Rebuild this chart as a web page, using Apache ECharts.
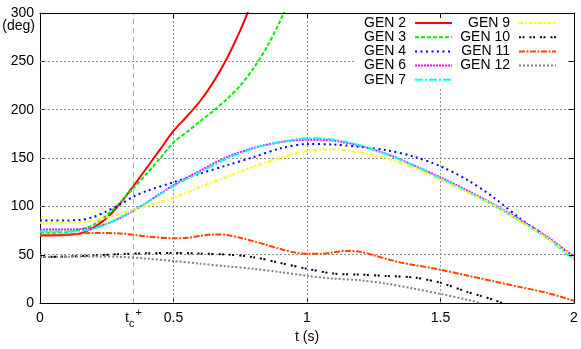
<!DOCTYPE html>
<html>
<head>
<meta charset="utf-8">
<script src="https://cdn.jsdelivr.net/npm/echarts@6/dist/echarts.min.js"></script>
<style>html,body{margin:0;padding:0;background:#fff}#c{width:581px;height:349px}</style>
</head>
<body>
<div id="c"></div>
<script>
const yTicks = [0, 50, 100, 150, 200, 250, 300];
const xTicks = [0, 0.5, 1, 1.5, 2];
const tcValue = 0.353;

const t2 = [0,0.05,0.1,0.15,0.2,0.25,0.3,0.35,0.4,0.45,0.5,0.55,0.6,0.65,0.7,0.75,0.78];
const gen2 = [70,70,70.5,72,78,88,103,121,140,159,178,193,209,229,253,282,302];

const t3 = [0,0.05,0.1,0.15,0.2,0.25,0.3,0.35,0.4,0.45,0.5,0.55,0.6,0.65,0.7,0.75,0.8,0.85,0.9,0.92];
const gen3 = [73,73,73.5,76,81,91,104,119,134,150,166,177,188,199,211,225,243,265,292,305];

const tMain = [0,0.1,0.15,0.2,0.25,0.3,0.35,0.4,0.5,0.6,0.7,0.8,0.9,1.0,1.1,1.2,1.3,1.4,1.5,1.6,1.7,1.8,1.9,2.0];
const gen4 = [85.5,85.5,86,89,95,102,110,116,125,134,142.5,151,160,164.5,164,161.5,158,151.5,141.5,127.5,109,87,67.5,47];
const gen6 = [76,76,76.5,78,82,88,95.5,104,122,137,151,160.5,166.5,169,168,162.5,154,142.5,130,116.5,102,86,68.5,48];
const gen7 = [74,74,74.5,77,82,88.5,96,104,121,135.5,149.5,160,166.5,170.5,169,163,154,142,129,115.5,101,84.5,67,45];
const gen9 = [83,83,83.5,85,88.5,92.5,96.5,100.5,109,120,130.5,141,150,157.5,159,155.5,149.5,140,127,114.5,101,84.5,67,47];

const t10 = [0,0.1,0.2,0.3,0.4,0.5,0.6,0.7,0.8,0.9,1.0,1.1,1.2,1.3,1.4,1.5,1.6,1.65,1.7,1.73];
const gen10 = [47.7,48.2,49.3,50.7,51.5,51.8,51.2,50.2,47.5,41.5,35.5,30.5,29.5,28,26.5,21,11.5,7.5,3.3,0];

const t11 = [0,0.1,0.2,0.3,0.4,0.5,0.55,0.6,0.65,0.7,0.75,0.8,0.85,0.9,0.95,1.0,1.05,1.1,1.15,1.2,1.25,1.3,1.35,1.4,1.5,1.6,1.7,1.8,1.9,2.0];
const gen11 = [70.5,71,72.5,72,69,67,67.5,69.5,71,70.5,67.5,64,60,56,52.5,51,51,52.5,54,53,49.5,45.5,42,39.5,34.5,28.5,22.5,16.5,10.5,2.5];

const t12 = [0,0.1,0.2,0.3,0.4,0.5,0.6,0.7,0.8,0.9,1.0,1.1,1.2,1.3,1.4,1.5,1.6,1.65];
const gen12 = [47.5,48,48.3,47.8,46,43.5,40.8,38,35.5,32,28.3,25.3,23.6,20,15,9.5,3.5,0];

const names1 = ['GEN 2','GEN 3','GEN 4','GEN 6','GEN 7'];
const names2 = ['GEN 9','GEN 10','GEN 11','GEN 12'];

const zip = (t, v) => t.map((x, i) => [x, v[i]]);
const FONT = 'Liberation Sans, Arial, sans-serif';

function mk(name, t, v, color, type, width) {
  return {
    name, type: 'line', data: zip(t, v), showSymbol: false, symbol: 'none',
    smooth: 0.3, clip: true, z: 3,
    lineStyle: { color, type, width: width || 2 },
    itemStyle: { color },
    emphasis: { disabled: true }
  };
}

const series = [
  mk('GEN 2', t2, gen2, '#ff0000', 'solid', 2),
  mk('GEN 3', t3, gen3, '#00ee00', [4, 2]),
  mk('GEN 4', tMain, gen4, '#0000ff', [2, 3.5]),
  mk('GEN 6', tMain, gen6, '#ff00ff', [2, 1]),
  mk('GEN 7', tMain, gen7, '#00ffff', [8, 2, 2, 2]),
  mk('GEN 9', tMain, gen9, '#ffff00', [4, 2, 1.5, 2]),
  mk('GEN 10', t10, gen10, '#000000', [2, 1.5, 2, 5]),
  mk('GEN 11', t11, gen11, '#ff4500', [6, 1.5, 2, 1.5]),
  mk('GEN 12', t12, gen12, '#808080', [2, 2])
];

series[0].markLine = {
  silent: true, symbol: 'none', animation: false, z: 1,
  lineStyle: { color: '#b0b0b0', type: [5, 4], width: 1 },
  label: {
    show: true, position: 'start', distance: 4,
    formatter: '{t|t}{c|c}{p|+}',
    rich: {
      t: { fontSize: 14, fontFamily: FONT, color: '#000', lineHeight: 22, verticalAlign: 'middle' },
      c: { fontSize: 11, fontFamily: FONT, color: '#000', lineHeight: 12, verticalAlign: 'bottom' },
      p: { fontSize: 11, fontFamily: FONT, color: '#000', lineHeight: 12, verticalAlign: 'top', padding: [0, 0, 0, 1] }
    }
  },
  data: [{ xAxis: tcValue }]
};

function legend(data, right) {
  return {
    data, orient: 'vertical', align: 'right', right, top: 16,
    padding: 0, itemGap: 0.2, itemWidth: 37, itemHeight: 10,
    selectedMode: false,
    itemStyle: { opacity: 0 },
    textStyle: { fontSize: 14, fontFamily: FONT, color: '#000', lineHeight: 14, padding: [0, 4, 0, 0] }
  };
}

const baseGraphic = [
  { id: 'keybg', type: 'rect', z: 2, silent: true, shape: { x: 355, y: 14, width: 212, height: 73 }, style: { fill: '#fff' } },
  { id: 'deg', type: 'text', z: 5, silent: true, x: 35, y: 26,
    style: { text: '(deg)', align: 'right', verticalAlign: 'middle', fontSize: 14, fontFamily: FONT, fill: '#000' } }
];

const option = {
  animation: false,
  backgroundColor: '#fff',
  grid: { left: 40, right: 7, top: 13, bottom: 43 },
  xAxis: [
    {
      type: 'value', min: xTicks[0], max: xTicks[xTicks.length - 1], interval: 0.5,
      name: 't (s)', nameLocation: 'middle', nameGap: 26,
      nameTextStyle: { fontSize: 14, fontFamily: FONT, color: '#000' },
      axisLine: { show: true, onZero: false, lineStyle: { color: '#000', width: 1 } },
      axisTick: { show: true, inside: true, length: 5, lineStyle: { color: '#000' } },
      axisLabel: { fontSize: 14, fontFamily: FONT, color: '#000', margin: 8 },
      splitLine: { show: false }
    },
    {
      type: 'value', position: 'top', min: 0, max: 2, interval: 0.5, z: 5,
      axisLine: { show: true, onZero: false, lineStyle: { color: '#000', width: 1 } },
      axisTick: { show: true, inside: true, length: 5, lineStyle: { color: '#000' } },
      axisLabel: { show: false }, splitLine: { show: false }
    }
  ],
  yAxis: [
    {
      type: 'value', min: yTicks[0], max: yTicks[yTicks.length - 1], interval: 50,
      axisLine: { show: true, onZero: false, lineStyle: { color: '#000', width: 1 } },
      axisTick: { show: true, inside: true, length: 5, lineStyle: { color: '#000' } },
      axisLabel: { fontSize: 14, fontFamily: FONT, color: '#000', margin: 6 },
      splitLine: { show: false }
    },
    {
      type: 'value', position: 'right', min: 0, max: 300, interval: 50, z: 5,
      axisLine: { show: true, onZero: false, lineStyle: { color: '#000', width: 1 } },
      axisTick: { show: true, inside: true, length: 5, lineStyle: { color: '#000' } },
      axisLabel: { show: false }, splitLine: { show: false }
    }
  ],
  legend: [legend(names1, 128), legend(names2, 24)],
  graphic: baseGraphic,
  series
};

const chart = echarts.init(document.getElementById('c'), null, { renderer: 'canvas' });
chart.setOption(option);

// grid lines at the inner tick values, positioned through the axes' scales
const px = v => chart.convertToPixel({ xAxisIndex: 0 }, v);
const py = v => chart.convertToPixel({ yAxisIndex: 0 }, v);
const crisp = p => Math.round(p - 0.5) + 0.5;
const xa = px(xTicks[0]), xb = px(xTicks[xTicks.length - 1]);
const ya = py(yTicks[0]), yb = py(yTicks[yTicks.length - 1]);
const gridStyle = () => ({ stroke: '#8c8c8c', lineWidth: 1, lineDash: [2, 2], fill: null });

const hLines = yTicks.slice(1, -1).map((v, i) => {
  const y = crisp(py(v));
  return { id: 'hgrid' + i, type: 'polyline', z: 1, silent: true,
    shape: { points: [[xa, y], [xb, y + 0.01]] }, style: gridStyle() };
});
const vLines = xTicks.slice(1, -1).map((v, i) => {
  const x = crisp(px(v));
  return { id: 'vgrid' + i, type: 'polyline', z: 1, silent: true,
    shape: { points: [[x, ya], [x + 0.01, yb]] }, style: gridStyle() };
});
chart.setOption({ graphic: baseGraphic.concat(hLines, vLines) });
</script>
</body>
</html>
